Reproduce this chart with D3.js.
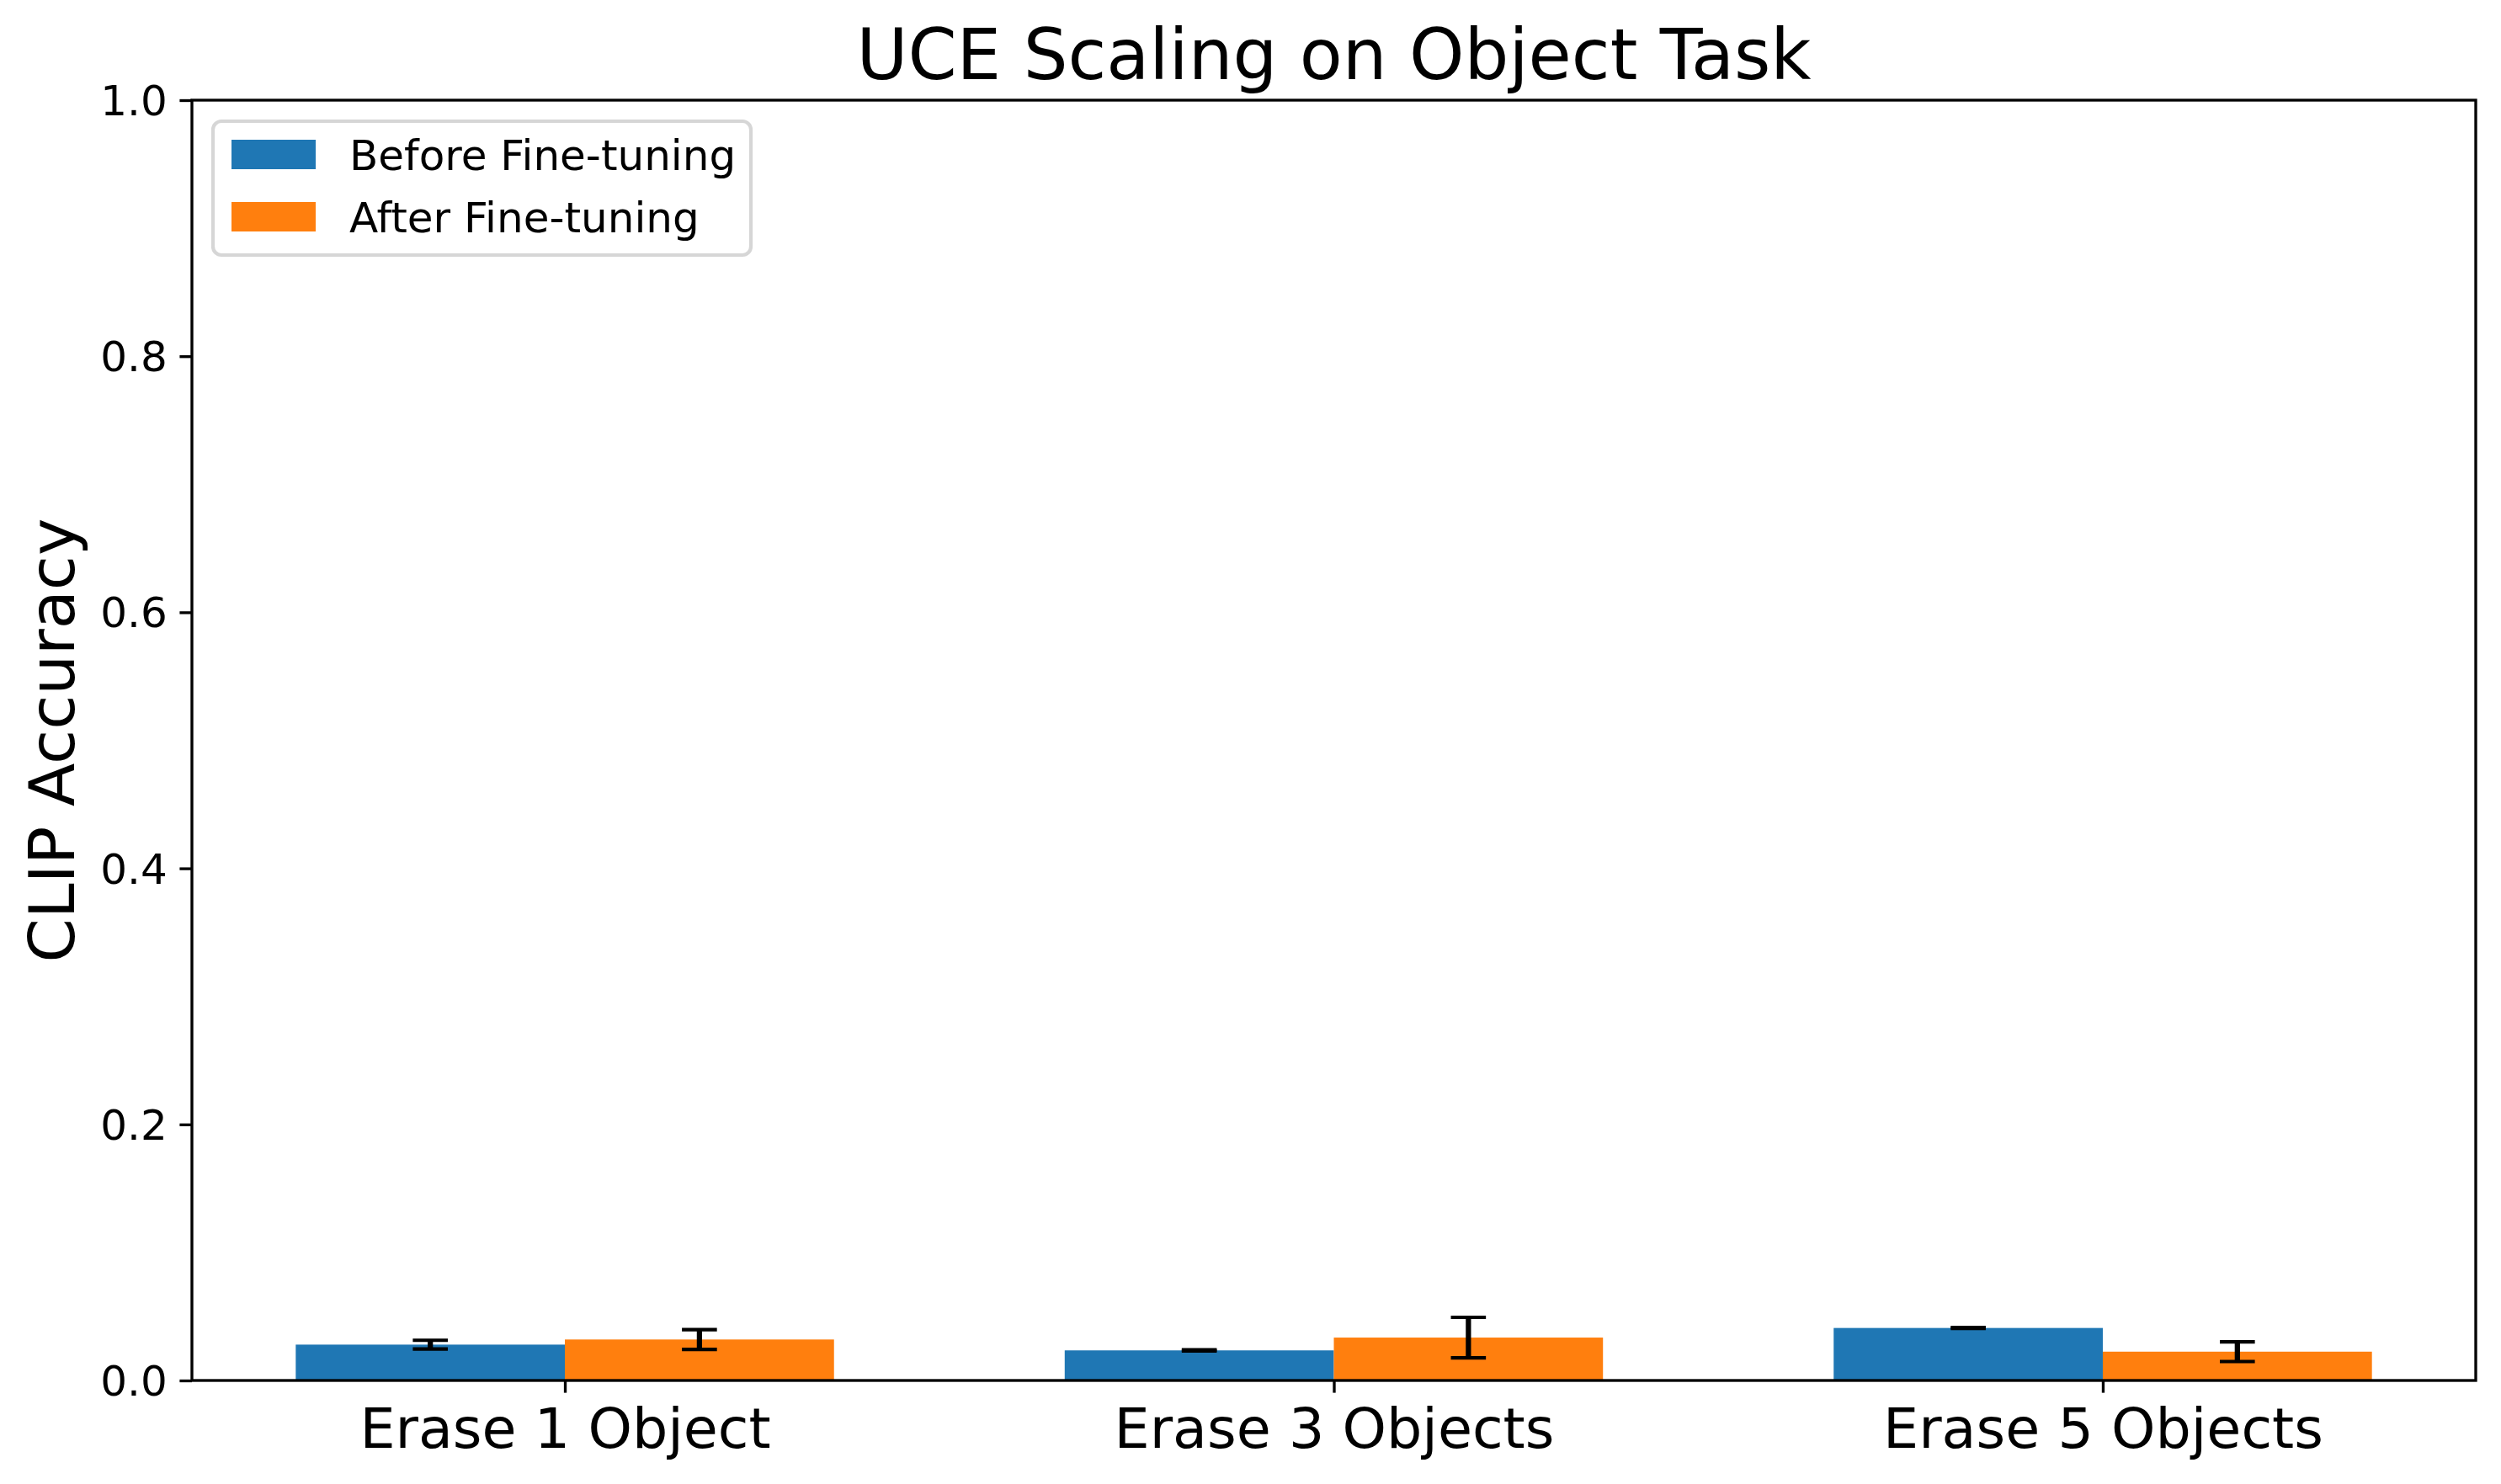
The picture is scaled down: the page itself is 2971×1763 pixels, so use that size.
<!DOCTYPE html>
<html>
<head>
<meta charset="utf-8">
<script src="https://cdn.jsdelivr.net/npm/d3@7"></script>
<style>
  html, body { margin: 0; padding: 0; background: #ffffff; }
  svg { display: block; font-family: "DejaVu Sans", sans-serif; }
</style>
</head>
<body>
<svg id="chart" width="2971" height="1763"></svg>
<script>
const categories = ["Erase 1 Object", "Erase 3 Objects", "Erase 5 Objects"];
const seriesNames = ["Before Fine-tuning", "After Fine-tuning"];
const beforeValues = [0.028, 0.0235, 0.041];
const beforeErrors = [0.0034, 0.0004, 0.0004];
const afterValues = [0.032, 0.0335, 0.0225];
const afterErrors = [0.0077, 0.0158, 0.0077];
const yTicks = [0.0, 0.2, 0.4, 0.6, 0.8, 1.0];
const colors = ["#1f77b4", "#ff7f0e"];

(function () {
const W = 2971, H = 1763;
const pLeft = 228, pRight = 2941, pTop = 119, pBottom = 1640;
const barWidth = 0.35;
const tickLen = 14.6, axisLW = 3.33;

const svg = d3.select("#chart");

const x = d3.scaleLinear().domain([-0.485, 2.485]).range([pLeft, pRight]);
const y = d3.scaleLinear().domain([0, 1]).range([pBottom, pTop]);

const series = [
  { name: seriesNames[0], values: beforeValues, errors: beforeErrors, color: colors[0], offset: -barWidth / 2 },
  { name: seriesNames[1], values: afterValues, errors: afterErrors, color: colors[1], offset: barWidth / 2 }
];

// Bars
series.forEach(s => {
  svg.append("g").selectAll("rect")
    .data(s.values)
    .join("rect")
    .attr("x", (d, i) => x(i + s.offset - barWidth / 2))
    .attr("width", (d, i) => x(i + s.offset + barWidth / 2) - x(i + s.offset - barWidth / 2))
    .attr("y", d => y(d))
    .attr("height", d => y(0) - y(d))
    .attr("fill", s.color);
});

// Error bars
const capHalf = 20.8;
series.forEach(s => {
  const g = svg.append("g");
  s.values.forEach((v, i) => {
    const cx = x(i + s.offset);
    const lo = y(v - s.errors[i]), hi = y(v + s.errors[i]);
    g.append("line").attr("x1", cx).attr("x2", cx).attr("y1", lo).attr("y2", hi)
      .attr("stroke", "#000").attr("stroke-width", 6.25);
    [lo, hi].forEach(yy => {
      g.append("line").attr("x1", cx - capHalf).attr("x2", cx + capHalf).attr("y1", yy).attr("y2", yy)
        .attr("stroke", "#000").attr("stroke-width", 4.2);
    });
  });
});

// Y axis
const yAxis = d3.axisLeft(y).tickValues(yTicks).tickFormat(d3.format(".1f")).tickSize(tickLen).tickPadding(14.6);
const gy = svg.append("g").attr("transform", `translate(${pLeft},0)`).call(yAxis);
gy.select(".domain").remove();
gy.selectAll(".tick line").attr("stroke", "#000").attr("stroke-width", axisLW);
gy.selectAll(".tick text").attr("font-size", 50).attr("fill", "#000")
  .attr("font-family", "DejaVu Sans").attr("dy", "0.35em");

// X axis
const xAxis = d3.axisBottom(x).tickValues([0, 1, 2]).tickFormat(i => categories[i]).tickSize(tickLen).tickPadding(14.6);
const gx = svg.append("g").attr("transform", `translate(0,${pBottom})`).call(xAxis);
gx.select(".domain").remove();
gx.selectAll(".tick line").attr("stroke", "#000").attr("stroke-width", axisLW);
gx.selectAll(".tick text").attr("font-size", 66.7).attr("fill", "#000")
  .attr("font-family", "DejaVu Sans").attr("dy", "0.76em");

// Frame
svg.append("rect").attr("x", pLeft).attr("y", pTop).attr("width", pRight - pLeft).attr("height", pBottom - pTop)
  .attr("fill", "none").attr("stroke", "#000").attr("stroke-width", axisLW);

// Title
svg.append("text").attr("x", (pLeft + pRight) / 2).attr("y", 94).attr("text-anchor", "middle")
  .attr("font-size", 83.3).attr("fill", "#000").text("UCE Scaling on Object Task");

// Y label
svg.append("text").attr("transform", `translate(88,${(pTop + pBottom) / 2}) rotate(-90)`)
  .attr("text-anchor", "middle").attr("font-size", 75).attr("fill", "#000").text("CLIP Accuracy");

// Legend
const lg = svg.append("g");
lg.append("rect").attr("x", 253).attr("y", 144).attr("width", 639).attr("height", 159)
  .attr("rx", 10).attr("ry", 10).attr("fill", "#fff").attr("fill-opacity", 0.8)
  .attr("stroke", "#d6d6d6").attr("stroke-width", 4.2);
const rowCenters = [183.5, 257.5];
series.forEach((s, i) => {
  lg.append("rect").attr("x", 275).attr("y", rowCenters[i] - 17.5).attr("width", 100).attr("height", 35).attr("fill", s.color);
  lg.append("text").attr("x", 415).attr("y", rowCenters[i] + 18).attr("font-size", 50).attr("fill", "#000").text(s.name);
});
})();
</script>
</body>
</html>
